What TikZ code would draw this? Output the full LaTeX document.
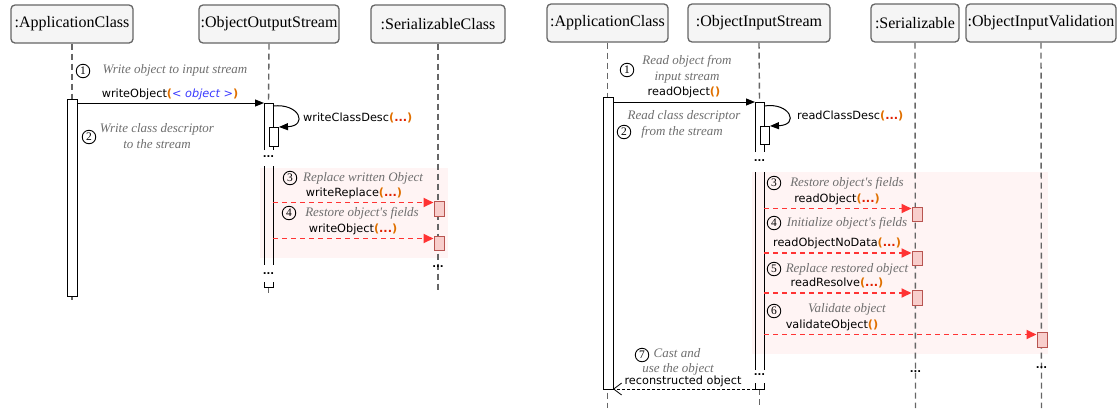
\documentclass[tikz,border=0pt]{standalone}
\usepackage{fontspec}
\setmainfont{Liberation Serif}
\newfontfamily\notefont{Liberation Serif}
\newfontfamily\msgfont{DejaVu Sans}
\usetikzlibrary{arrows.meta}
\definecolor{hdrfill}{HTML}{F5F5F5}
\definecolor{hdrline}{HTML}{666666}
\definecolor{notegray}{HTML}{6E6E6E}
\definecolor{parorange}{HTML}{E07000}
\definecolor{dotred}{HTML}{E02000}
\definecolor{objblue}{HTML}{3838FF}
\definecolor{msgred}{HTML}{FF3333}
\definecolor{boxfill}{HTML}{F8CECC}
\definecolor{boxline}{HTML}{B85450}
\definecolor{pinkbg}{HTML}{FFF4F4}
\newcommand{\myop}{\textcolor{parorange}{\textbf{(}}}
\newcommand{\mycl}{\textcolor{parorange}{\textbf{)}}}
\newcommand{\mydots}{\textcolor{dotred}{\textbf{...}}}
\begin{document}
\begin{tikzpicture}[x=1pt,y=-1pt,
  hdr/.style={draw=hdrline,fill=hdrfill,rounded corners=4pt,line width=1.3pt,
    minimum height=38pt,inner sep=0pt,font=\fontsize{16}{18}\selectfont},
  life/.style={draw=hdrline,line width=1.4pt,dash pattern=on 6pt off 4pt},
  act/.style={draw=black,line width=1pt},
  note/.style={text=notegray,font=\notefont\fontsize{13}{16}\selectfont\itshape,align=center,inner sep=0pt},
  msg/.style={font=\msgfont\fontsize{11.3}{13}\selectfont,inner sep=0pt},
  num/.style={circle,draw=black,line width=0.9pt,inner sep=0pt,minimum size=13.5pt,
    font=\fontsize{11.5}{11.5}\selectfont},
  brk/.style={font=\msgfont\bfseries\fontsize{10}{10}\selectfont,inner sep=0pt},
  call/.style={draw=black,line width=1pt,-{Triangle[length=9pt,width=7pt]}},
  async/.style={draw=msgred,line width=1.8pt,dash pattern=on 5pt off 4pt,
    -{Triangle[length=10pt,width=9pt]},shorten >=0.5pt},
  ret/.style={draw=black,line width=0.8pt,dash pattern=on 3pt off 2pt,
    -{Straight Barb[length=8pt,width=12pt]}},
  rbox/.style={draw=boxline,fill=boxfill,line width=1pt},
  pinkarea/.style={fill=pinkbg}
]
\useasboundingbox (0,0) rectangle (1118,408);

% ================= LEFT DIAGRAM =================
\node[hdr,minimum width=122pt] (hA) at (72,24) {:ApplicationClass};
\node[hdr,minimum width=140pt] (hO) at (269,24) {:ObjectOutputStream};
\node[hdr,minimum width=134pt] (hS) at (438,24) {:SerializableClass};

\fill[pinkarea] (260,168) rectangle (448,258);

% lifelines
\coordinate (lAend) at (72,303);
\coordinate (lOtop) at (268.5,103);
\coordinate (lObot) at (268.5,287);
\coordinate (lOend) at (268.5,295);
\coordinate (lSend) at (438,293);
\draw[life] (hA.south) -- (lAend);
\draw[life] (hO.south) -- (lOtop);
\draw[life] (lObot) -- (lOend);
\draw[life] (hS.south) -- (lSend);

% activation ApplicationClass
\draw[act,fill=white] (67,99) rectangle (77,296);
% activation ObjectOutputStream (segmented)
\fill[white] (264,103) rectangle (273,150);
\draw[act] (264,150) -- (264,103) -- (273,103) -- (273,150);
\node[brk] (bO1) at (268.5,157) {...};
\draw[act] (264,166) -- (264,265);
\draw[act] (273,166) -- (273,265);
\node[brk] (bO2) at (268.5,274) {...};
\draw[act] (264,282) -- (264,287) -- (273,287) -- (273,282);
% nested
\node[act,fill=white,minimum width=9pt,minimum height=19pt,inner sep=0pt,anchor=north west] (nO) at (269,127) {};

% step 1
\node[num] (L1) at (83,71) {1};
\node[note] (L1t) at (175,70) {Write object to input stream};
\node[msg] (L1m) at (170,94) {writeObject\myop{\color{objblue}\itshape<\ object\ >}\mycl};
\coordinate (LaS) at (77,103);
\coordinate (LaE) at (264,103);
\draw[call] (LaS) -- (LaE);
% self call
\coordinate (LsS) at (273,106);
\draw[call] (LsS) .. controls (300,103) and (308,126) .. (nO.north east);
\node[msg,anchor=west] (Lsm) at (303,118) {writeClassDesc\myop\mydots\mycl};
% step 2
\node[num] (L2) at (89,137) {2};
\node[note] (L2t) at (157,136) {Write class descriptor\\to the stream};
% step 3
\node[num] (L3) at (290,178) {3};
\node[note] (L3t) at (363,178) {Replace written Object};
\node[msg] (L3m) at (354,193) {writeReplace\myop\mydots\mycl};
\node[rbox,minimum width=10pt,minimum height=15pt,inner sep=0pt,anchor=north west] (Lb3) at (434,201) {};
\coordinate (L3s) at (273,202.5);
\draw[async] (L3s) -- (L3s -| Lb3.west);
% step 4
\node[num] (L4) at (289,213) {4};
\node[note] (L4t) at (362,213) {Restore object's fields};
\node[msg] (L4m) at (353,229) {writeObject\myop\mydots\mycl};
\node[rbox,minimum width=10pt,minimum height=14pt,inner sep=0pt,anchor=north west] (Lb4) at (434,236) {};
\coordinate (L4s) at (273,238.5);
\draw[async] (L4s) -- (L4s -| Lb4.west);
\node[brk] (bS) at (438,267) {...};

% ================= RIGHT DIAGRAM =================
\node[hdr,minimum width=121pt] (rA) at (607.5,23) {:ApplicationClass};
\node[hdr,minimum width=142pt] (rO) at (759,23) {:ObjectInputStream};
\node[hdr,minimum width=88pt] (rS) at (915,23) {:Serializable};
\node[hdr,minimum width=150pt] (rV) at (1041,23) {:ObjectInputValidation};

\fill[pinkarea] (752,172) rectangle (1048,354);

\coordinate (rAend) at (607.5,408);
\coordinate (rOtop) at (759.5,102);
\coordinate (rObot) at (759.5,389);
\coordinate (rOend) at (759.5,408);
\coordinate (rSend) at (915.5,408);
\coordinate (rVend) at (1041.5,408);
\draw[life] (rA.south) -- (rAend);
\draw[life] (rO.south) -- (rOtop);
\draw[life] (rObot) -- (rOend);
\draw[life] (rS.south) -- (rSend);
\draw[life] (rV.south) -- (rVend);

% activation ApplicationClass
\draw[act,fill=white] (603,97) rectangle (613,389);
% activation ObjectInputStream (segmented)
\fill[white] (755,102) rectangle (764,152);
\draw[act] (755,152) -- (755,102) -- (764,102) -- (764,152);
\node[brk] (rb1) at (759.5,161) {...};
\draw[act] (755,172) -- (755,370);
\draw[act] (764,172) -- (764,370);
\node[brk] (rb2) at (759.5,375) {...};
\draw[act] (755,383) -- (755,389) -- (764,389) -- (764,383);
\node[act,fill=white,minimum width=9pt,minimum height=18pt,inner sep=0pt,anchor=north west] (rn) at (760,126) {};

% step 1
\node[num] (R1) at (627,70) {1};
\node[note] (R1t) at (687,69) {Read object from\\input stream};
\node[msg] (R1m) at (684,92) {readObject\myop\mycl};
\coordinate (RaS) at (613,102);
\coordinate (RaE) at (755,102);
\draw[call] (RaS) -- (RaE);
% self call
\coordinate (RsS) at (764,106);
\draw[call] (RsS) .. controls (790,102) and (800,125) .. (rn.north east);
\node[msg,anchor=west] (Rsm) at (797,116) {readClassDesc\myop\mydots\mycl};
% step 2
\node[note] (R2a) at (684,116) {Read class descriptor};
\node[num] (R2) at (624,132) {2};
\node[note] (R2t) at (682,132) {from the stream};
% step 3
\node[num] (R3) at (774,183) {3};
\node[note] (R3t) at (847,183) {Restore object's fields};
\node[msg] (R3m) at (837,199) {readObject\myop\mydots\mycl};
\node[rbox,minimum width=10pt,minimum height=14pt,inner sep=0pt,anchor=north west] (Rb3) at (912,207) {};
\coordinate (R3s) at (764,208.5);
\draw[async] (R3s) -- (R3s -| Rb3.west);
% step 4
\node[num] (R4) at (774,223) {4};
\node[note] (R4t) at (847,223) {Initialize object's fields};
\node[msg] (R4m) at (837,243) {readObjectNoData\myop\mydots\mycl};
\node[rbox,minimum width=10pt,minimum height=14pt,inner sep=0pt,anchor=north west] (Rb4) at (912,251) {};
\coordinate (R4s) at (764,253);
\draw[async] (R4s) -- (R4s -| Rb4.west);
% step 5
\node[num] (R5) at (774,269) {5};
\node[note] (R5t) at (847,269) {Replace restored object};
\node[msg] (R5m) at (837,283) {readResolve\myop\mydots\mycl};
\node[rbox,minimum width=10pt,minimum height=15pt,inner sep=0pt,anchor=north west] (Rb5) at (912,290) {};
\coordinate (R5s) at (764,293);
\draw[async] (R5s) -- (R5s -| Rb5.west);
% step 6
\node[num] (R6) at (774,311) {6};
\node[note] (R6t) at (847,309) {Validate object};
\node[msg] (R6m) at (832,325) {validateObject\myop\mycl};
\node[rbox,minimum width=10pt,minimum height=15pt,inner sep=0pt,anchor=north west] (Rb6) at (1037,332) {};
\coordinate (R6s) at (764,334.5);
\draw[async] (R6s) -- (R6s -| Rb6.west);
\node[brk] (rbS) at (915.5,372) {...};
\node[brk] (rbV) at (1041.5,368) {...};
% step 7
\node[num] (R7) at (642,355) {7};
\node[note] (R7a) at (677,353) {Cast and};
\node[note] (R7b) at (678,369) {use the object};
\node[msg] (R7m) at (683,381) {reconstructed object};
\coordinate (RrS) at (755,389);
\coordinate (RrE) at (613,389);
\draw[ret] (RrS) -- (RrE);
\end{tikzpicture}
\end{document}
